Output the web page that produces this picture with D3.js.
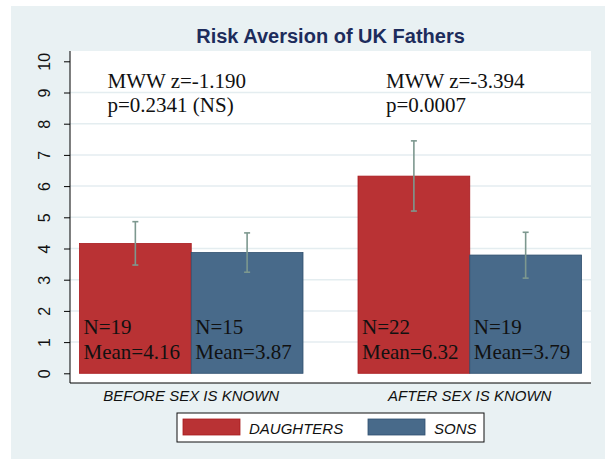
<!DOCTYPE html>
<html>
<head>
<meta charset="utf-8">
<script src="https://cdn.jsdelivr.net/npm/d3@7"></script>
<style>
  body { margin: 0; background: #fff; }
  svg { display: block; }
</style>
</head>
<body>
<svg id="chart" width="605" height="459"></svg>
<script>
// --- data ---
const groups = ['BEFORE SEX IS KNOWN', 'AFTER SEX IS KNOWN'];
const series = ['DAUGHTERS', 'SONS'];
const daughtersMean = [4.16, 6.32];
const sonsMean = [3.87, 3.79];
const daughtersN = [19, 22];
const sonsN = [15, 19];
const daughtersLow = [3.47, 5.2];
const daughtersHigh = [4.86, 7.45];
const sonsLow = [3.24, 3.05];
const sonsHigh = [4.5, 4.52];
const testZ = ['-1.190', '-3.394'];
const testP = ['0.2341 (NS)', '0.0007'];
const yTicks = [0, 1, 2, 3, 4, 5, 6, 7, 8, 9, 10];

const colors = { DAUGHTERS: '#b93234', SONS: '#486a8a' };
const edges = { DAUGHTERS: '#a8191d', SONS: '#2f4f6e' };
const ciColor = '#7d988f';
const bg = '#e9f1f3';
const sans = '"Liberation Sans", Arial, sans-serif';
const serif = '"Liberation Serif", "Times New Roman", serif';

const rows = [];
groups.forEach((g, i) => {
  rows.push({ group: g, key: 'DAUGHTERS', mean: daughtersMean[i], n: daughtersN[i], lo: daughtersLow[i], hi: daughtersHigh[i] });
  rows.push({ group: g, key: 'SONS', mean: sonsMean[i], n: sonsN[i], lo: sonsLow[i], hi: sonsHigh[i] });
});

const svg = d3.select('#chart');

// outer graph region
svg.append('rect')
  .attr('x', 11).attr('y', 6)
  .attr('width', 594).attr('height', 453)
  .attr('fill', bg);

const plot = { left: 70, right: 591, top: 51, bottom: 383 };

svg.append('rect')
  .attr('x', plot.left).attr('y', plot.top)
  .attr('width', plot.right - plot.left).attr('height', plot.bottom - plot.top)
  .attr('fill', '#fff');

const y = d3.scaleLinear().domain([0, 10]).range([373.3, 61.3]);
const x0 = d3.scaleBand()
  .domain(groups)
  .range([plot.left, plot.right])
  .paddingInner(0.1975)
  .paddingOuter(0.034);
const x1 = d3.scaleBand().domain(series).range([0, x0.bandwidth()]);

// grid lines
svg.append('g')
  .selectAll('line')
  .data(yTicks.filter(t => t > 0 && t < 10))
  .join('line')
  .attr('x1', plot.left).attr('x2', plot.right)
  .attr('y1', d => y(d)).attr('y2', d => y(d))
  .attr('stroke', '#e4edf0')
  .attr('stroke-width', 1.5);

// bars
svg.append('g')
  .selectAll('rect')
  .data(rows)
  .join('rect')
  .attr('x', d => x0(d.group) + x1(d.key))
  .attr('y', d => y(d.mean))
  .attr('width', x1.bandwidth())
  .attr('height', d => y(0) - y(d.mean))
  .attr('fill', d => colors[d.key])
  .attr('stroke', d => edges[d.key])
  .attr('stroke-width', 0.8);

// error bars
const ci = svg.append('g')
  .attr('stroke', ciColor)
  .attr('stroke-width', 1.6)
  .selectAll('g')
  .data(rows)
  .join('g')
  .attr('transform', d => `translate(${x0(d.group) + x1(d.key) + x1.bandwidth() / 2},0)`);
ci.append('line').attr('y1', d => y(d.lo)).attr('y2', d => y(d.hi));
ci.append('line').attr('x1', -3).attr('x2', 3).attr('y1', d => y(d.lo)).attr('y2', d => y(d.lo));
ci.append('line').attr('x1', -3).attr('x2', 3).attr('y1', d => y(d.hi)).attr('y2', d => y(d.hi));

// labels inside bars
const lab = svg.append('g')
  .attr('font-family', serif)
  .attr('font-size', 21)
  .attr('fill', '#111')
  .selectAll('g')
  .data(rows)
  .join('g')
  .attr('transform', d => `translate(${x0(d.group) + x1(d.key) + 4},0)`);
lab.append('text').attr('y', y(0) - 39.5).text(d => `N=${d.n}`);
lab.append('text').attr('y', y(0) - 14.5).text(d => `Mean=${d.mean.toFixed(2)}`);

// test annotations
const ann = svg.append('g')
  .attr('font-family', serif)
  .attr('font-size', 21)
  .attr('fill', '#111')
  .selectAll('g')
  .data(groups)
  .join('g')
  .attr('transform', g => `translate(${x0(g) + 28},0)`);
ann.append('text').attr('y', y(9.14)).text((g, i) => `MWW z=${testZ[i]}`);
ann.append('text').attr('y', y(9.14) + 24).text((g, i) => `p=${testP[i]}`);

// y axis
const yAxis = svg.append('g')
  .attr('transform', `translate(${plot.left},0)`)
  .call(d3.axisLeft(y).tickValues(yTicks).tickSize(6).tickPadding(0).tickFormat(d3.format('d')));
yAxis.select('.domain').attr('d', `M0,${plot.top}V${plot.bottom}`).attr('stroke', '#000');
yAxis.selectAll('.tick line').attr('stroke', '#000');
yAxis.selectAll('.tick text')
  .attr('font-family', sans)
  .attr('font-size', 16)
  .attr('fill', '#111')
  .attr('x', null)
  .attr('dy', null)
  .attr('text-anchor', 'middle')
  .attr('transform', 'translate(-26,0) rotate(-90) translate(0,6)');

// x axis
svg.append('line')
  .attr('x1', plot.left).attr('x2', plot.right)
  .attr('y1', plot.bottom).attr('y2', plot.bottom)
  .attr('stroke', '#000');
svg.append('g')
  .selectAll('text')
  .data(groups)
  .join('text')
  .attr('x', g => x0(g) + x0.bandwidth() / 2)
  .attr('y', 400.5)
  .attr('text-anchor', 'middle')
  .attr('font-family', sans)
  .attr('font-style', 'italic')
  .attr('font-size', 15)
  .attr('fill', '#111')
  .text(g => g);

// title
svg.append('text')
  .attr('x', (plot.left + plot.right) / 2)
  .attr('y', 43)
  .attr('text-anchor', 'middle')
  .attr('font-family', sans)
  .attr('font-weight', 'bold')
  .attr('font-size', 20)
  .attr('fill', '#1d2c5c')
  .text('Risk Aversion of UK Fathers');

// legend
const legend = svg.append('g');
legend.append('rect')
  .attr('x', 177).attr('y', 413)
  .attr('width', 307).attr('height', 29)
  .attr('fill', '#fff')
  .attr('stroke', '#111')
  .attr('stroke-width', 1);
const items = legend.selectAll('g')
  .data(series)
  .join('g')
  .attr('transform', (d, i) => `translate(${183 + i * 185},419)`);
items.append('rect')
  .attr('width', 57).attr('height', 16)
  .attr('fill', d => colors[d])
  .attr('stroke', d => edges[d])
  .attr('stroke-width', 0.8);
items.append('text')
  .attr('x', 66).attr('y', 15)
  .attr('font-family', sans)
  .attr('font-style', 'italic')
  .attr('font-size', 15)
  .attr('fill', '#111')
  .text(d => d);
</script>
</body>
</html>
